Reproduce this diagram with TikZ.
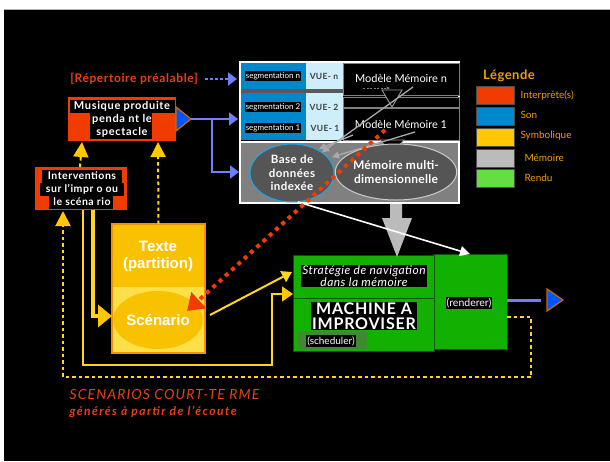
\documentclass[tikz,border=0pt]{standalone}
\usepackage{fontspec}
\setmainfont{Lato}
\newfontfamily\helv{Liberation Sans}
\usetikzlibrary{arrows.meta,shapes.geometric}
\definecolor{interp}{HTML}{F03C00}
\definecolor{reptxt}{HTML}{E8420E}
\definecolor{son}{HTML}{0088CC}
\definecolor{vue}{HTML}{CDEEFA}
\definecolor{periw}{HTML}{6F80FF}
\definecolor{tri}{HTML}{0055FF}
\definecolor{symb}{HTML}{FFC800}
\definecolor{yline}{HTML}{FFD51E}
\definecolor{texte}{HTML}{F9C200}
\definecolor{texteb}{HTML}{FBE04A}
\definecolor{texteborder}{HTML}{F29200}
\definecolor{memgray}{HTML}{808080}
\definecolor{elfill}{HTML}{555555}
\definecolor{legtxt}{HTML}{F0A000}
\definecolor{rendu}{HTML}{66DD44}
\definecolor{gbox}{HTML}{12B000}
\definecolor{gdark}{HTML}{3F8A30}
\definecolor{cyanb}{HTML}{1AA8E8}
\definecolor{arrgray}{HTML}{AAAAAA}
\definecolor{memlight}{HTML}{BBBBBB}
\newcommand\lsp[1]{\addfontfeatures{LetterSpace=#1}}
\tikzset{
  tbg/.style={fill=black,text=white,inner sep=1pt},
  boxnode/.style={rectangle,inner sep=0pt,outer sep=0pt},
  ydash/.style={draw=yline,line width=2pt,dash pattern=on 3.5pt off 3pt},
  ythin/.style={draw=yline,line width=1.6pt},
  yhead/.style={-{Triangle[length=15pt,width=15pt,fill=symb,color=symb]}},
  bluel/.style={draw=periw,line width=2.6pt,-{Triangle[length=9pt,width=13pt]}},
  grayarr/.style={draw=arrgray,line width=1.3pt,-{Triangle[length=7pt,width=7pt]}},
  swatch/.style={boxnode,draw=black!70,line width=0.8pt,minimum width=38pt,minimum height=18pt},
  legl/.style={text=legtxt,anchor=west,font=\fontsize{10}{12}\selectfont},
  seglab/.style={tbg,font=\fontsize{8}{9}\selectfont},
  vuelab/.style={text=black!75,font=\bfseries\fontsize{8.5}{10}\selectfont\lsp{4}},
}
\begin{document}
\begin{tikzpicture}[x=1pt,y=-1pt]
\useasboundingbox (0,0) rectangle (610,461);
\fill[white] (0,0) rectangle (610,461);
\fill[black] (4,9) rectangle (610,461);
\draw[gray!60,line width=0.6pt] (4,9) -- (610,9);

% ---------- memory block ----------
\node[boxnode,draw=white,line width=1.5pt,minimum width=219pt,minimum height=141pt] (mem) at (349.5,132.5) {};
\fill[son] (241,63) rectangle (306,89);
\fill[son] (241,93) rectangle (306,140);
\fill[vue] (306,63) rectangle (343,89);
\fill[vue] (306,93) rectangle (343,140);
\fill[black!65] (241,89) rectangle (343,93);
\node[boxnode,fill=black,draw=gray,line width=0.8pt,minimum width=116pt,minimum height=32pt] (mmn) at (401,79) {};
\draw[gray,line width=0.8pt,fill=black] (343,97) rectangle (459,107);
\node[boxnode,fill=black,draw=gray,line width=0.8pt,minimum width=116pt,minimum height=32pt] (mm1) at (401,124) {};
\node[text=white,font=\fontsize{11}{13}\selectfont] at (401,78) {Modèle Mémoire n};
\node[text=white,font=\fontsize{11}{13}\selectfont] at (401,124) {Modèle Mémoire 1};
\draw[gray,line width=0.8pt,dash pattern=on 2pt off 1.5pt,-{Stealth[length=4pt]}] (363,88) -- (390,88);
\node[seglab] (segn) at (273,76) {segmentation n};
\node[seglab] (seg2) at (273,107) {segmentation 2};
\node[seglab] (seg1) at (273,128) {segmentation 1};
\node[vuelab] at (324,76) {VUE- n};
\node[vuelab] at (324,107) {VUE- 2};
\node[vuelab] at (325,128) {VUE- 1};
\draw[gray!80,line width=0.9pt,fill=black] (382,90) -- (402,90) -- (392,107) -- cycle;
% gray panel
\node[boxnode,fill=memgray,draw=white,line width=1.5pt,minimum width=219pt,minimum height=61pt] (panel) at (349.5,172.5) {};
\draw[gray!80,line width=0.9pt,fill=black] (380,140) -- (404,140) -- (392,154) -- cycle;
\node[ellipse,fill=elfill,draw=cyanb,line width=1pt,minimum width=84pt,minimum height=58pt,inner sep=0pt,
  text=white,align=center,font=\bfseries\fontsize{11.5}{13.5}\selectfont\lsp{4}] (base) at (292,173) {Base de\\données\\indexée};
\node[ellipse,fill=elfill,draw=gray!40,line width=1pt,minimum width=108pt,minimum height=56pt,inner sep=0pt,
  text=white,align=center,font=\bfseries\fontsize{12}{14}\selectfont\lsp{2}] (mmd) at (396,172) {Mémoire multi-\\dimensionnelle};
\coordinate (g1s) at (413,87);
\coordinate (g2s) at (353,135);
\coordinate (g3s) at (415,132);
\draw[grayarr] (g1s) -- (base.north east);
\draw[grayarr] (g2s) -- (319,149);
\draw[grayarr] (g3s) -- (332,157);

% ---------- legend ----------
\node[text=legtxt,font=\bfseries\fontsize{13}{15}\selectfont\lsp{4}] (leg) at (509,76) {Légende};
\node[swatch,fill=interp] (l1) at (495,95) {};
\node[swatch,fill=son] (l2) at (495,116) {};
\node[swatch,fill=symb] (l3) at (495,137) {};
\node[swatch,fill=memlight] (l4) at (495,158) {};
\node[swatch,fill=rendu] (l5) at (495,178) {};
\node[legl] at (517,95) {Interprète(s)};
\node[legl] at (517,115) {Son};
\node[legl] at (517,136) {Symbolique};
\node[legl] at (521,158) {Mémoire};
\node[legl] at (521,178) {Rendu};

% ---------- performer boxes ----------
\node[text=reptxt,font=\bfseries\fontsize{12}{14}\selectfont\lsp{5}] (rep) at (134,79) {[Répertoire préalable]};
\node[boxnode,fill=interp,minimum width=108pt,minimum height=44pt] (mus) at (122,119) {};
\fill[black] (70,100) rectangle (175,113);
\fill[black] (90,113) rectangle (152,139);
\node[text=white,align=center,font=\bfseries\fontsize{11}{13}\selectfont\lsp{6}] at (122,119) {Musique produite\\penda nt le\\spectacle};
\draw[orange!80!black,line width=1.2pt,fill=tri] (176,107) -- (191,119) -- (176,131) -- cycle;
\coordinate (musout) at (191,119);

\node[boxnode,fill=interp,minimum width=92pt,minimum height=43pt] (int) at (81,188.5) {};
\fill[black] (42,170) rectangle (122,183);
\fill[black] (40,183) rectangle (124,196);
\fill[black] (49,196) rectangle (113,209);
\node[text=white,align=center,font=\bfseries\fontsize{10.5}{13}\selectfont\lsp{5}] at (82,189) {Interventions\\sur l'impr o ou\\le scéna rio};

% ---------- texte / scenario ----------
\fill[texte] (112,224) rectangle (205,287);
\fill[texteb] (112,287) rectangle (205,353);
\node[boxnode,draw=texteborder,line width=1.5pt,minimum width=93pt,minimum height=129pt] (texte) at (158.5,288.5) {};
\node[text=white,align=center,font=\helv\bfseries\fontsize{15}{17}\selectfont] at (158,256) {Texte\\(partition)};
\node[ellipse,fill=texte,minimum width=84pt,minimum height=58pt,inner sep=0pt,text=white,
  font=\helv\bfseries\fontsize{15}{17}\selectfont] (scen) at (158,320) {Scénario};

% ---------- green boxes ----------
\node[boxnode,fill=gbox,draw=green!35!black,line width=1pt,minimum width=74pt,minimum height=95pt] (rend) at (470,301.5) {};
\node[boxnode,fill=gbox,draw=green!35!black,line width=1pt,minimum width=141pt,minimum height=43pt] (strat) at (363.5,276.5) {};
\node[boxnode,fill=gbox,draw=green!35!black,line width=1pt,minimum width=141pt,minimum height=53pt] (mach) at (363.5,324.5) {};
\node[tbg,align=center,font=\itshape\fontsize{12}{12}\selectfont\lsp{4}] at (364,276) {Stratégie de navigation\\dans la mémoire};
\node[tbg,align=center,font=\bfseries\fontsize{16}{15}\selectfont\lsp{5}] at (364,316) {MACHINE A\\IMPROVISER};
\fill[gdark] (298,332) rectangle (367,349);
\node[tbg,font=\fontsize{10}{11}\selectfont] at (331,341) {(scheduler)};
\node[tbg,font=\fontsize{10.5}{12}\selectfont] at (469,303) {(renderer)};

% ---------- connectors ----------
\coordinate (rep_end) at (237,79);
\draw[draw=periw,line width=2.6pt,dash pattern=on 2.5pt off 2.5pt,-{Triangle[length=9pt,width=13pt]}] (205,79) -- (rep_end);
\coordinate (branch) at (212,119);
\draw[bluel] (musout) -- (238,119);
\draw[bluel] (branch) |- (239,172);

% big gray arrow
\fill[memlight] (390,204) -- (402,204) -- (402,218) -- (412,218) -- (397,257) -- (382,218) -- (390,218) -- cycle;
% white arrow
\coordinate (wstart) at (298,202);
\draw[white,line width=1.6pt,-{Triangle[length=10pt,width=10pt]}] (wstart) -- (rend.north);

% red dotted arrow
\coordinate (redstart) at (385,130);
\coordinate (redend) at (187,311);
\draw[draw=interp,line width=4pt,dash pattern=on 4pt off 4.5pt,-{Triangle[length=16pt,width=21pt]}] (redstart) -- (redend);

% yellow connectors
\draw[ydash,yhead] (int.north) ++(-1,0) -- (82,142);
\draw[ydash,yhead] (texte.north) -- (158,142);
\coordinate (dr) at (507,317);
\draw[ydash,yhead] (dr) -- (531,317) -- (531,377) -- (63,377) -- (63,211);
\draw[ythin,-{Triangle[length=11pt,width=15pt,color=symb]}] (83,210) -- (83,365) -- (272,365) -- (272,294) -- (293,294);
\draw[draw=yline,line width=4pt,-{Triangle[length=14pt,width=22pt,color=symb]}] (93,210) -- (93,316) -- (112,316);
\draw[draw=yline,line width=2pt,-{Triangle[length=10pt,width=12pt]}] (scen.east) ++(7,-5) -- (292,272);

% output
\coordinate (outend) at (541,300);
\draw[draw=periw,line width=3pt] (rend.east |- outend) -- (outend);
\draw[orange!80!black,line width=1.2pt,fill=tri] (547,289) -- (563,300) -- (547,311) -- cycle;

% bottom text
\node[anchor=west,text=reptxt,font=\itshape\fontsize{14}{16}\selectfont\lsp{8}] (sc1) at (66,394) {SCENARIOS COURT-TE RME};
\node[anchor=west,text=reptxt,font=\bfseries\itshape\fontsize{12}{14}\selectfont\lsp{12}] (sc2) at (66,412) {générés à partir de l'écoute};
\end{tikzpicture}
\end{document}
